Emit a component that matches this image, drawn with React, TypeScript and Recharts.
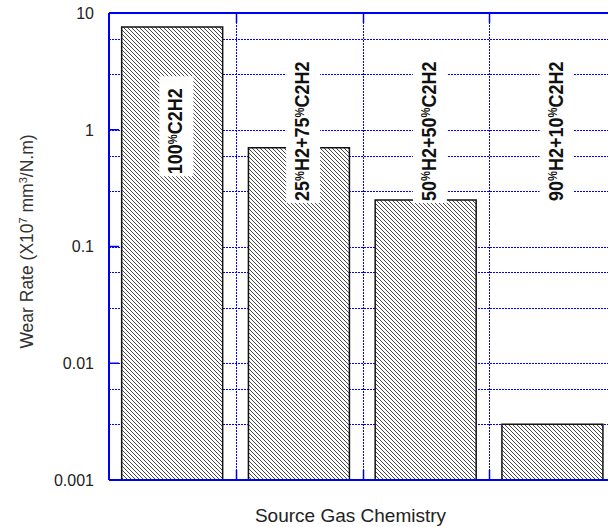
import {
  BarChart, Bar, XAxis, YAxis, CartesianGrid, ReferenceDot,
} from 'recharts'

// categories (one per source gas mix) and wear rates
const categories = ['100%C2H2', '25%H2+75%C2H2', '50%H2+50%C2H2', '90%H2+10%C2H2']
const wearRates = [7.6, 0.7, 0.25, 0.003]
const yTicks = [0.001, 0.01, 0.1, 1, 10]
const labelLevel = 1

const decades = [0.001, 0.01, 0.1, 1]
const multipliers = [1, 2, 3, 4, 5, 6, 7, 8, 9]
const gridValues = decades.flatMap((d) => multipliers.map((m) => +(d * m).toPrecision(3))).concat([10])

const data = categories.map((name, i) => ({ name, value: wearRates[i] }))

const BLUE = '#0000f0'
const GRID = '#0000ff'
const FONT = '"Liberation Sans", Arial, sans-serif'

const LABEL_FS = 18
const LABEL_SY = 1.15
const PCT = 0.62
const charW: Record<string, number> = { H: 0.722, C: 0.722, '+': 0.584, '%': 0.889 * PCT }
function labelLength(s: string) {
  let w = 0
  for (const ch of s) w += charW[ch] ?? 0.556
  return w * LABEL_FS
}

function renderLabelText(s: string) {
  // small, raised percent sign like the original
  const parts = s.split('%')
  const out: any[] = []
  parts.forEach((p, i) => {
    out.push(p)
    if (i < parts.length - 1) {
      out.push(
        <tspan key={i} fontSize={LABEL_FS * PCT} baselineShift={LABEL_FS * 0.716 * (1 - PCT)}>%</tspan>
      )
    }
  })
  return out
}

function BarLabel(props: any) {
  const { cx, cy, text } = props
  const L = labelLength(text)
  const capH = 0.716 * LABEL_FS * LABEL_SY
  const along = -1.5
  return (
    <g transform={`translate(${cx},${cy}) rotate(-90)`}>
      <rect x={along - L / 2 - 2} y={-13} width={L + 14} height={34} fill="#fff" />
      <text
        transform={`scale(1,${LABEL_SY})`}
        x={along}
        y={(2.5 + capH / 2) / LABEL_SY}
        textAnchor="middle"
        fontFamily={FONT}
        fontWeight="bold"
        fontSize={LABEL_FS}
        fill="#111"
      >
        {renderLabelText(text)}
      </text>
    </g>
  )
}

const crisp = (v: number) => Math.round(v) + 0.5

function HLine(p: any) {
  const y = crisp(p.y1)
  return <line key={p.key} x1={p.x1} x2={p.x2} y1={y} y2={y} stroke={GRID} strokeWidth={1} strokeDasharray="2 1" />
}

function VLine(p: any) {
  const x = crisp(p.x1)
  return <line key={p.key} x1={x} x2={x} y1={p.y1} y2={p.y2} stroke={GRID} strokeWidth={1} strokeDasharray="2 1" />
}

function YTick(props: any) {
  const { x, y, payload } = props
  return (
    <g>
      <line x1={x} x2={x + 10} y1={y} y2={y} stroke={BLUE} strokeWidth={1.5} />
      <text x={x - 15} y={y} dy="0.36em" textAnchor="end" fontFamily={FONT} fontSize={16} fill="#222">
        {String(payload.value)}
      </text>
    </g>
  )
}

// ticks sit on the boundaries between categories
function BottomTick(props: any) {
  const { x, y, payload, index } = props
  if (index >= categories.length - 1) return <g />
  const bx = crisp(x + (payload.offset ?? 0))
  return <line x1={bx} x2={bx} y1={y} y2={y - 10} stroke={BLUE} strokeWidth={1.5} />
}

function TopTick(props: any) {
  const { x, y, payload, index } = props
  if (index >= categories.length - 1) return <g />
  const bx = crisp(x + (payload.offset ?? 0))
  return <line x1={bx} x2={bx} y1={y} y2={y + 10} stroke={BLUE} strokeWidth={1.5} />
}

function YLabel(props: any) {
  const { viewBox } = props
  const cx = viewBox.x + 33
  const cy = viewBox.y + viewBox.height / 2 - 5
  return (
    <text transform={`translate(${cx},${cy}) rotate(-90)`} textAnchor="middle" fontFamily={FONT} fontSize={17.5} fill="#333">
      Wear Rate (X10<tspan fontSize={11} baselineShift="super">7</tspan> mm<tspan fontSize={11} baselineShift="super">3</tspan>/N.m)
    </text>
  )
}

function XLabel(props: any) {
  const { viewBox } = props
  return (
    <text x={viewBox.x + viewBox.width / 2 - 12} y={522} textAnchor="middle" fontFamily={FONT} fontSize={19} fill="#222">
      Source Gas Chemistry
    </text>
  )
}

export default function App() {
  return (
    <div style={{ width: 620, height: 527 }}>
      <style>{'body{margin:0;overflow:hidden}'}</style>
      <svg width={0} height={0} style={{ position: 'absolute' }}>
        <defs>
          <pattern id="hatch" width={4} height={4} patternUnits="userSpaceOnUse">
            <rect width={4} height={4} fill="#fff" />
            <path d="M-1,-1 L5,5 M3,-1 L5,1 M-1,3 L1,5" stroke="#333" strokeWidth={0.9} />
          </pattern>
        </defs>
      </svg>
      <BarChart
        width={620}
        height={527}
        data={data}
        margin={{ top: 0, right: 4, bottom: 0, left: 0 }}
        barCategoryGap="10%"
      >
        <CartesianGrid
          horizontalValues={gridValues}
          horizontal={HLine}
          vertical={VLine}
          verticalCoordinatesGenerator={({ offset }: any) =>
            [1, 2, 3].map((i) => offset.left + (offset.width * i) / categories.length)
          }
        />
        <XAxis
          xAxisId="cat"
          dataKey="name"
          height={47}
          tickSize={0}
          tickMargin={0}
          tick={<BottomTick />}
          tickLine={false}
          interval={0}
          axisLine={{ stroke: BLUE, strokeWidth: 2 }}
          label={{ content: <XLabel /> }}
        />
        <XAxis
          xAxisId="top"
          dataKey="name"
          orientation="top"
          height={13}
          tickSize={0}
          tickMargin={0}
          tick={<TopTick />}
          tickLine={false}
          interval={0}
          axisLine={{ stroke: BLUE, strokeWidth: 2 }}
        />
        <YAxis
          scale="log"
          domain={[0.001, 10]}
          ticks={yTicks}
          allowDataOverflow
          width={109}
          tickSize={0}
          tickMargin={0}
          tick={<YTick />}
          tickLine={false}
          axisLine={{ stroke: BLUE, strokeWidth: 2 }}
          label={{ content: <YLabel /> }}
        />
        <Bar
          xAxisId="cat"
          dataKey="value"
          fill="url(#hatch)"
          stroke="#111"
          strokeWidth={1.5}
          isAnimationActive={false}
        />
        {categories.map((c) => (
          <ReferenceDot
            key={c}
            xAxisId="cat"
            x={c}
            y={labelLevel}
            ifOverflow="visible"
            shape={(p: any) => <BarLabel cx={p.cx} cy={p.cy} text={c} />}
          />
        ))}
      </BarChart>
    </div>
  )
}
